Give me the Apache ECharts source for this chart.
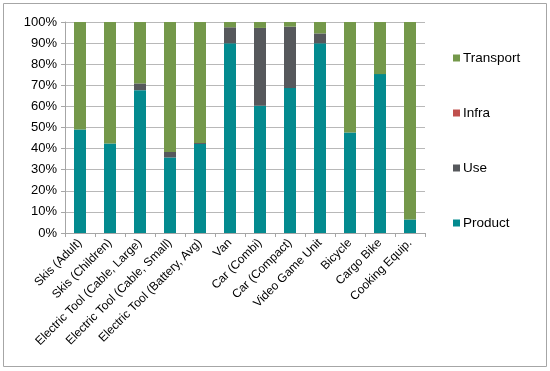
<!DOCTYPE html>
<html><head><meta charset="utf-8">
<script src="https://cdn.jsdelivr.net/npm/echarts@6/dist/echarts.min.js"></script>
<style>html,body{margin:0;padding:0;background:#fff}#c{width:550px;height:371px}</style>
</head><body><div id="c"></div>
<script>
var categories = ["Skis (Adult)", "Skis (Children)", "Electric Tool (Cable, Large)", "Electric Tool (Cable, Small)", "Electric Tool (Battery, Avg)", "Van", "Car (Combi)", "Car (Compact)", "Video Game Unit", "Bicycle", "Cargo Bike", "Cooking Equip."];
var product   = [49.0, 42.4, 67.7, 35.8, 42.2, 89.9, 60.3, 68.7, 89.9, 47.6, 75.3, 6.4];
var use       = [0.0, 0.0, 3.2, 2.6, 0.5, 7.6, 36.9, 29.1, 4.7, 0.0, 0.0, 0.0];
var infra     = [0, 0, 0, 0, 0, 0, 0, 0, 0, 0, 0, 0];
var transport = [51.0, 57.6, 29.1, 61.6, 57.3, 2.5, 2.8, 2.2, 5.4, 52.4, 24.7, 93.6];
var yTicks = [0, 10, 20, 30, 40, 50, 60, 70, 80, 90, 100];

var chart = echarts.init(document.getElementById('c'), null, {renderer: 'canvas'});
var font = 'Liberation Sans, Arial, sans-serif';
function s(name, data, color) {
  return {name: name, type: 'bar', stack: 'a', data: data, barWidth: '40%',
    itemStyle: {color: color}, emphasis: {disabled: true}};
}
chart.setOption({
  animation: false,
  graphic: [{type: 'rect', shape: {x: 3.5, y: 3.5, width: 543, height: 363},
    style: {fill: 'none', stroke: '#a6a6a6', lineWidth: 1}}],
  grid: {left: 65, right: 125, top: 22, bottom: 138, containLabel: false},
  legend: {
    orient: 'vertical', left: 448, top: 46, itemWidth: 7, itemHeight: 7, itemGap: 41,
    icon: 'rect',
    data: ['Transport', 'Infra', 'Use', 'Product'],
    textStyle: {fontFamily: font, fontSize: 13.5, color: '#000', padding: [0, 0, 0, -2]}
  },
  xAxis: {
    type: 'category', data: categories,
    axisLine: {lineStyle: {color: '#a6a6a6'}},
    axisTick: {show: true, length: 4, lineStyle: {color: '#a6a6a6'}},
    axisLabel: {rotate: 45, interval: 0, fontFamily: font, fontSize: 12, color: '#000', margin: 8}
  },
  yAxis: {
    type: 'value', min: 0, max: 100, interval: 10,
    axisLine: {show: true, lineStyle: {color: '#a6a6a6'}},
    axisTick: {show: true, length: 4, lineStyle: {color: '#a6a6a6'}},
    splitLine: {lineStyle: {color: '#b8b8b8'}},
    axisLabel: {fontFamily: font, fontSize: 13, color: '#000', margin: 8,
      formatter: function (v) { return yTicks.indexOf(v) >= 0 ? v + '%' : ''; }}
  },
  series: [
    s('Product', product, '#038a8f'),
    s('Use', use, '#56585c'),
    s('Infra', infra, '#c0504d'),
    s('Transport', transport, '#74984a')
  ]
});
</script></body></html>
